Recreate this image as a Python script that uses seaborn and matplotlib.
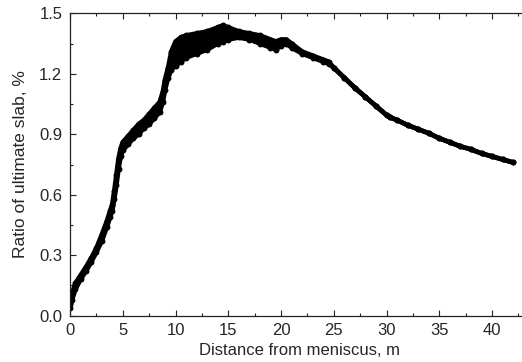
import numpy as np
import pandas as pd
import matplotlib
matplotlib.use("Agg")
import matplotlib.pyplot as plt
import seaborn as sns
from matplotlib.ticker import MultipleLocator

# Distance from meniscus (m) and the lower / upper envelope of the ratio (%)
dist = [0.0, 0.2, 0.5, 1.0, 1.5, 2.0, 2.5, 3.0, 3.5, 3.8, 4.0, 4.2, 4.4, 4.6,
        4.8, 5.0, 5.5, 6.0, 6.5, 7.0, 7.5, 8.0, 8.5, 8.8, 9.0, 9.3, 9.6, 10.0,
        10.5, 11.0, 12.0, 13.0, 14.0, 14.5, 15.0, 16.0, 17.0, 18.0, 19.0, 19.5,
        20.0, 20.5, 21.0, 22.0, 23.0, 24.0, 24.5, 25.0, 26.0, 27.0, 28.0, 29.0,
        30.0, 30.3, 31.0, 32.0, 33.0, 34.0, 35.0, 36.0, 37.0, 38.0, 39.0, 40.0,
        41.0, 42.0]
ratio_low = [0.04, 0.08, 0.13, 0.18, 0.22, 0.265, 0.315, 0.37, 0.44, 0.49,
             0.52, 0.58, 0.65, 0.73, 0.79, 0.82, 0.85, 0.88, 0.90, 0.93, 0.95,
             0.98, 1.01, 1.06, 1.12, 1.18, 1.22, 1.24, 1.26, 1.28, 1.30, 1.32,
             1.35, 1.36, 1.37, 1.38, 1.37, 1.35, 1.33, 1.32, 1.34, 1.35, 1.33,
             1.30, 1.28, 1.26, 1.25, 1.23, 1.18, 1.13, 1.085, 1.04, 0.995, 0.985,
             0.97, 0.945, 0.925, 0.905, 0.88, 0.86, 0.84, 0.825, 0.805, 0.79,
             0.775, 0.76]
ratio_high = [0.06, 0.11, 0.16, 0.20, 0.24, 0.285, 0.335, 0.40, 0.47, 0.52,
              0.55, 0.62, 0.70, 0.78, 0.83, 0.86, 0.89, 0.92, 0.95, 0.97, 1.00,
              1.03, 1.06, 1.11, 1.17, 1.23, 1.31, 1.36, 1.38, 1.39, 1.40, 1.41,
              1.43, 1.44, 1.43, 1.41, 1.40, 1.39, 1.37, 1.36, 1.37, 1.37, 1.35,
              1.31, 1.29, 1.27, 1.26, 1.23, 1.18, 1.13, 1.085, 1.04, 0.995, 0.985,
              0.97, 0.945, 0.925, 0.905, 0.88, 0.86, 0.84, 0.825, 0.805, 0.79,
              0.775, 0.76]

x_ticks = [0, 5, 10, 15, 20, 25, 30, 35, 40]
y_ticks = [0.0, 0.3, 0.6, 0.9, 1.2, 1.5]
y_tick_labels = ["0.0", "0.3", "0.6", "0.9", "1.2", "1.5"]

df = pd.DataFrame({"dist": dist, "low": ratio_low, "high": ratio_high})

sns.set_style("ticks")
plt.rcParams["font.family"] = ["Liberation Sans", "DejaVu Sans"]

fig = plt.figure(figsize=(5.22, 3.62), dpi=100)
ax = fig.add_axes([70 / 522, 1 - 315.7 / 362, 459 / 522, 302.4 / 362])

ax.fill_between(df["dist"], df["low"], df["high"], color="black", lw=0)
for col in ["low", "high"]:
    sns.lineplot(data=df, x="dist", y=col, ax=ax, color="black", lw=3.4,
                 estimator=None, solid_capstyle="round")
    sns.scatterplot(data=df, x="dist", y=col, ax=ax, color="black", s=18,
                    edgecolor="black", linewidth=0)

ax.set_xlim(0, 43.5)
ax.set_ylim(0, 1.5)
ax.set_xticks(x_ticks)
ax.set_yticks(y_ticks)
ax.set_yticklabels(y_tick_labels)
ax.xaxis.set_minor_locator(MultipleLocator(2.5))
ax.yaxis.set_minor_locator(MultipleLocator(0.15))
ax.tick_params(which="both", direction="in", top=True, right=True,
               labelsize=12, width=0.8, color="#222222")
ax.tick_params(which="major", length=4.2)
ax.tick_params(which="minor", length=2.2)
ax.tick_params(axis="x", pad=5)
ax.tick_params(axis="y", pad=5.5)
for s in ax.spines.values():
    s.set_linewidth(0.9)
    s.set_color("#222222")
    s.set_visible(True)

ax.set_xlabel("Distance from meniscus, m", fontsize=12, labelpad=4)
ax.set_ylabel("Ratio of ultimate slab, %", fontsize=12.5, labelpad=8)

fig.savefig("out.png", dpi=100)
